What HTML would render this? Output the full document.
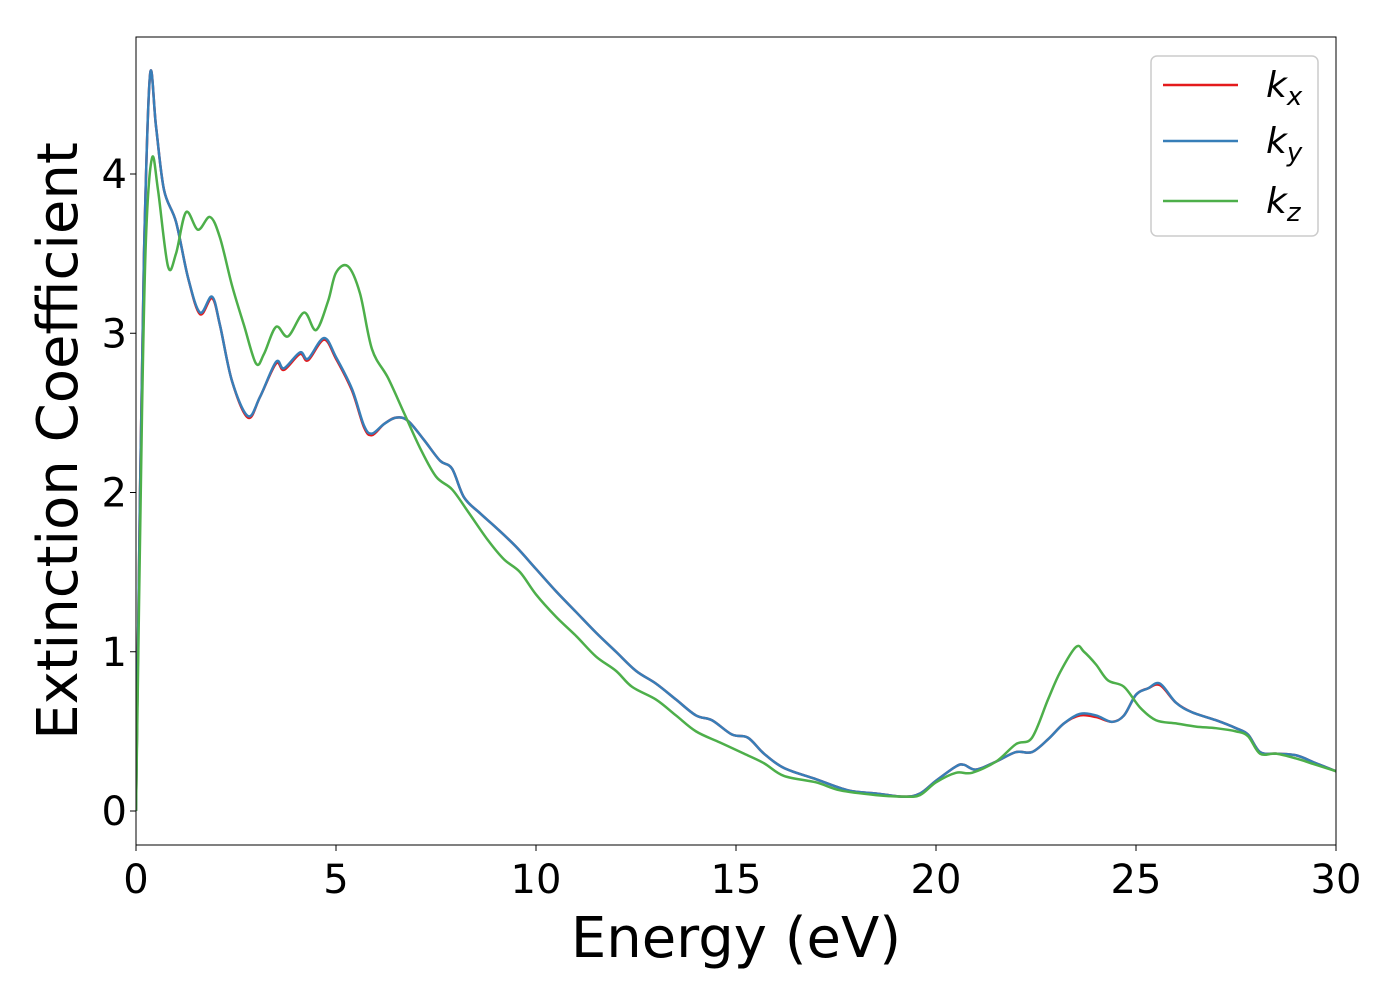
<!DOCTYPE html>
<html><head><meta charset="utf-8"><style>
body{margin:0;background:#fff;width:1400px;height:1000px;overflow:hidden}
svg text{font-family:"DejaVu Sans","Liberation Sans",sans-serif;fill:#000}
</style></head><body>
<svg id="chart" width="1400" height="1000">
<g id="plot"></g>
</svg>
<script>
const xTicks=[0,5,10,15,20,25,30];
const yTicks=[0,1,2,3,4];
const energyY=[0,0.1,0.2,0.35,0.5,0.7,1.0,1.3,1.6,1.9,2.1,2.4,2.8,3.1,3.5,3.7,4.1,4.3,4.7,5.0,5.4,5.7,5.9,6.2,6.5,6.8,7.2,7.6,7.9,8.2,8.6,9.0,9.5,10,10.5,11,11.5,12,12.5,13,13.5,14,14.4,14.9,15.3,15.7,16.2,17,17.8,18.5,19.2,19.6,20,20.5,20.7,21,21.5,22,22.4,22.8,23.2,23.6,24,24.4,24.7,25,25.3,25.6,26,26.4,27,27.5,27.8,28.1,28.5,29,29.5,30];
const kx=[0,2.0,3.5,4.62,4.3,3.9,3.7,3.35,3.12,3.22,3.05,2.7,2.47,2.6,2.81,2.77,2.87,2.83,2.96,2.84,2.64,2.41,2.36,2.43,2.47,2.45,2.33,2.2,2.15,1.97,1.87,1.78,1.66,1.52,1.38,1.25,1.12,1.0,0.88,0.8,0.7,0.6,0.57,0.48,0.46,0.36,0.27,0.2,0.13,0.11,0.09,0.11,0.19,0.28,0.29,0.26,0.31,0.37,0.37,0.45,0.55,0.6,0.59,0.56,0.6,0.73,0.77,0.79,0.68,0.62,0.57,0.52,0.48,0.37,0.36,0.35,0.3,0.25];
const ky=[0,2.0,3.5,4.62,4.3,3.9,3.7,3.35,3.13,3.23,3.05,2.7,2.48,2.6,2.82,2.78,2.88,2.84,2.97,2.85,2.65,2.42,2.37,2.43,2.47,2.45,2.33,2.2,2.15,1.97,1.87,1.78,1.66,1.52,1.38,1.25,1.12,1.0,0.88,0.8,0.7,0.6,0.57,0.48,0.46,0.36,0.27,0.2,0.13,0.11,0.09,0.11,0.19,0.28,0.29,0.26,0.31,0.37,0.37,0.45,0.55,0.61,0.6,0.56,0.6,0.73,0.77,0.8,0.68,0.62,0.57,0.52,0.48,0.37,0.36,0.35,0.3,0.25];
const energyZ=[0,0.15,0.25,0.4,0.55,0.8,1.0,1.25,1.55,1.85,2.1,2.4,2.7,3.0,3.2,3.5,3.8,4.2,4.5,4.8,5.0,5.3,5.6,5.9,6.3,6.7,7.1,7.5,7.9,8.3,8.8,9.2,9.6,10,10.5,11,11.5,12,12.4,13,13.5,14,14.6,15.2,15.7,16.2,17,17.6,18.5,19.2,19.6,20,20.5,20.9,21.5,22,22.4,22.8,23.1,23.5,23.7,24,24.3,24.7,25.1,25.5,26,26.5,27,27.5,27.8,28.1,28.5,29,29.5,30];
const kz=[0,2.5,3.6,4.1,3.9,3.42,3.5,3.76,3.65,3.73,3.6,3.3,3.05,2.81,2.87,3.04,2.98,3.13,3.02,3.2,3.38,3.42,3.25,2.9,2.72,2.5,2.28,2.1,2.02,1.88,1.7,1.58,1.5,1.36,1.22,1.1,0.97,0.88,0.78,0.7,0.6,0.5,0.43,0.36,0.3,0.22,0.18,0.13,0.1,0.09,0.1,0.18,0.24,0.24,0.31,0.42,0.46,0.7,0.87,1.03,1.0,0.92,0.82,0.78,0.65,0.57,0.55,0.53,0.52,0.5,0.47,0.36,0.36,0.33,0.29,0.25];

const L=136,R=1336,T=37,B=845;
const sx=v=>L+(v-0)/(30-0)*(R-L);
const sy=v=>811-v*159.25;
const NS='http://www.w3.org/2000/svg';
const g=document.getElementById('plot');
function mk(tag,attrs){const e=document.createElementNS(NS,tag);for(const k in attrs)e.setAttribute(k,attrs[k]);g.appendChild(e);return e;}
function pathFor(xs,ys){
  const p=xs.map((x,i)=>[sx(x),sy(ys[i])]);
  let d='M'+p[0][0]+','+p[0][1];
  for(let i=0;i<p.length-1;i++){
    const p0=p[Math.max(0,i-1)],p1=p[i],p2=p[i+1],p3=p[Math.min(p.length-1,i+2)];
    const c1x=p1[0]+(p2[0]-p0[0])/6,c1y=p1[1]+(p2[1]-p0[1])/6;
    const c2x=p2[0]-(p3[0]-p1[0])/6,c2y=p2[1]-(p3[1]-p1[1])/6;
    d+=` C${c1x},${c1y} ${c2x},${c2y} ${p2[0]},${p2[1]}`;
  }
  return d;
}
const series=[[energyY,kx,'#e41a1c','series-kx'],[energyY,ky,'#377eb8','series-ky'],[energyZ,kz,'#4daf4a','series-kz']];
series.forEach(s=>{
  const e=mk('path',{d:pathFor(s[0],s[1]),fill:'none',stroke:s[2],'stroke-width':2.5,'clip-path':'url(#clip)'});
  
  
});
const defs=document.createElementNS(NS,'defs');defs.innerHTML=`<clipPath id="clip"><rect x="${L}" y="${T}" width="${R-L}" height="${B-T}"/></clipPath>`;g.appendChild(defs);
const frame=mk('rect',{x:L,y:T,width:R-L,height:B-T,fill:'none',stroke:'#000','stroke-width':1});


xTicks.forEach(t=>{
  const tk=mk('line',{x1:sx(t),x2:sx(t),y1:B,y2:B+6,stroke:'#000'});
  
  
  const lb=mk('text',{x:sx(t),y:893,'text-anchor':'middle','font-size':40});
  lb.textContent=t;
  
  
});
yTicks.forEach(t=>{
  const tk=mk('line',{x1:L-6,x2:L,y1:sy(t),y2:sy(t),stroke:'#000'});
  
  
  const lb=mk('text',{x:127,y:sy(t)+14,'text-anchor':'end','font-size':40});
  lb.textContent=t;
  
  
});
const xt=mk('text',{x:736,y:957,'text-anchor':'middle','font-size':56});
xt.textContent='Energy (eV)';


const yt=mk('text',{x:0,y:0,'text-anchor':'middle','font-size':56,transform:'translate(77,441) rotate(-90)'});
yt.textContent='Extinction Coefficient';


const lg=mk('rect',{x:1151,y:56,width:167,height:180,rx:6,fill:'#fff','fill-opacity':0.8,stroke:'#ccc','stroke-width':1.5});


[['#e41a1c','x',85],['#377eb8','y',141],['#4daf4a','z',201]].forEach(e=>{
  const ln=mk('line',{x1:1163,x2:1238,y1:e[2],y2:e[2],stroke:e[0],'stroke-width':2.5});
  
  
  const tx=mk('text',{x:1266,y:e[2]+12,'font-size':36,'font-style':'italic'});
  tx.innerHTML='k<tspan font-size="26" dy="8">'+e[1]+'</tspan>';
  
  
});
</script>
</body></html>
